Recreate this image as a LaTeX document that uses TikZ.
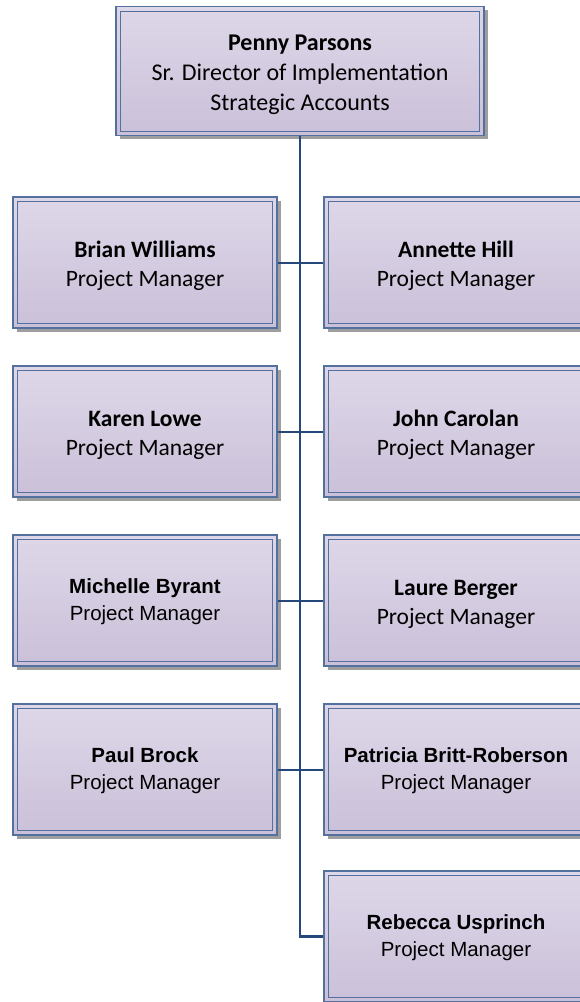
\documentclass[tikz,border=0pt]{standalone}
\usepackage{fontspec}
\setmainfont{Carlito}
\newfontfamily\arialish{Liberation Sans}
\usetikzlibrary{shadows}

\definecolor{linkblue}{HTML}{24487A}
\definecolor{rimblue}{HTML}{53709E}
\definecolor{filltop}{HTML}{DED7E8}
\definecolor{fillbot}{HTML}{CAC0D9}
\definecolor{shadowgray}{HTML}{9E9E9E}

% taller first line, so the text block sits a little below the box centre
\newcommand\toplift[1]{\rule{0pt}{#1}}

\tikzset{
  card/.style={
    rectangle, draw=rimblue, line width=1.3pt,
    top color=filltop, bottom color=fillbot,
    minimum width=264pt, minimum height=131pt,
    align=center, inner sep=0pt,
    drop shadow={shadow xshift=3.5pt, shadow yshift=-3.5pt,
                 fill=shadowgray, opacity=1},
    path picture={
      \draw[rimblue, line width=0.9pt]
        ([shift={(4.5pt,4.5pt)}]path picture bounding box.south west)
        rectangle
        ([shift={(-4.5pt,-4.5pt)}]path picture bounding box.north east);
    }
  },
  headcard/.style={card, minimum width=368pt, minimum height=129pt,
                   font=\fontsize{24}{30}\selectfont},
  calcard/.style={card, font=\fontsize{23.5}{29}\selectfont},
  arcard/.style={card, font=\arialish\fontsize{20.5}{26.5}\selectfont},
  trunk/.style={draw=linkblue, line width=2.8pt},
  branch/.style={draw=linkblue, line width=2pt}
}

\begin{document}
\begin{tikzpicture}[x=1pt, y=-1pt]
  \useasboundingbox (0,0) rectangle (580,1002);
  \clip (0,0) rectangle (580,1002);

  % director
  \node[headcard] (penny) at (300,71)
    {\toplift{1em}\textbf{Penny Parsons}\\Sr. Director of Implementation\\Strategic Accounts};

  % left column
  \node[calcard] (brian)    at (145,262.5) {\toplift{1em}\textbf{Brian Williams}\\Project Manager};
  \node[calcard] (karen)    at (145,431.5) {\toplift{1em}\textbf{Karen Lowe}\\Project Manager};
  \node[arcard]  (michelle) at (145,600.5) {\toplift{0.85em}\textbf{Michelle Byrant}\\Project Manager};
  \node[arcard]  (paul)     at (145,769.5) {\toplift{0.85em}\textbf{Paul Brock}\\Project Manager};

  % right column
  \node[calcard] (annette)  at (456,262.5) {\toplift{1em}\textbf{Annette Hill}\\Project Manager};
  \node[calcard] (john)     at (456,431.5) {\toplift{1em}\textbf{John Carolan}\\Project Manager};
  \node[calcard] (laure)    at (456,600.5) {\toplift{1em}\textbf{Laure Berger}\\Project Manager};
  \node[arcard]  (patricia) at (456,769.5) {\toplift{0.85em}\textbf{Patricia Britt-Roberson}\\Project Manager};
  \node[arcard]  (rebecca)  at (456,936.5) {\toplift{0.85em}\textbf{Rebecca Usprinch}\\Project Manager};

  % reporting lines
  \draw[trunk, line join=miter] (penny.south) |- (rebecca.west);
  \draw[branch] (brian.east) -- (annette.west);
  \draw[branch] (karen.east) -- (john.west);
  \draw[branch] (michelle.east) -- (laure.west);
  \draw[branch] (paul.east) -- (patricia.west);
\end{tikzpicture}
\end{document}
